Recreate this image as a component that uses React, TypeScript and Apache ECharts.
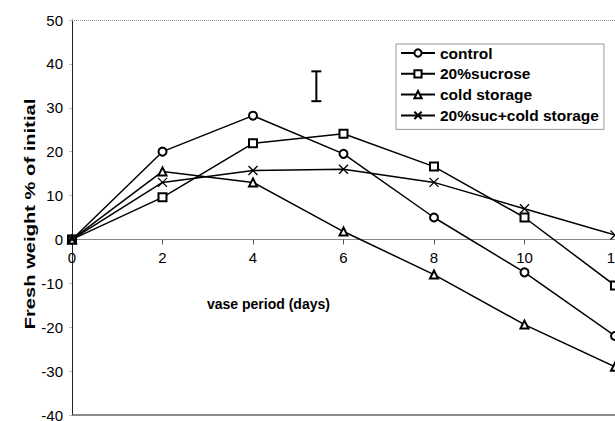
import React, { useEffect, useRef } from "react";
import * as echarts from "echarts";

const days = [0, 2, 4, 6, 8, 10, 12];
const control = [0, 20, 28.2, 19.5, 5, -7.5, -22];
const sucrose = [0, 9.6, 21.9, 24.1, 16.6, 5, -10.5];
const coldStorage = [0, 15.5, 13, 1.8, -8, -19.4, -29];
const sucCold = [0, 13, 15.7, 16, 13, 7, 1];
const seriesNames = ["control", "20%sucrose", "cold storage", "20%suc+cold storage"];
const errorBar = [[5.4, 31.5, 38.3]];

const FONT = "Liberation Sans, Arial, sans-serif";
const Y_MIN = -40;
const Y_MAX = 50;

export default function App() {
  const ref = useRef<HTMLDivElement>(null);
  useEffect(() => {
    if (!ref.current) return;
    const chart = echarts.init(ref.current, null, { renderer: "svg" });
    const pair = (arr: number[]) => days.map((d, i) => [d, arr[i]]);
    const common = {
      type: "line" as const,
      symbolSize: 8,
      lineStyle: { color: "#000", width: 1.5 },
      itemStyle: { color: "#000", borderColor: "#000", borderWidth: 1.3 },
      z: 3,
    };
    const gridTop = 20;
    const gridBottom = 6;
    const gridH = 421 - gridTop - gridBottom;
    // move the x axis up to the zero level
    const zeroOffset = -(gridH * (0 - Y_MIN)) / (Y_MAX - Y_MIN);
    chart.setOption({
      animation: false,
      backgroundColor: "#fff",
      textStyle: { fontFamily: FONT },
      grid: { left: 72, right: 0, top: gridTop, bottom: gridBottom, containLabel: false, outerBoundsMode: "none" },
      legend: {
        data: seriesNames,
        orient: "vertical",
        left: 396,
        top: 44,
        itemWidth: 34,
        itemHeight: 9,
        itemGap: 4.8,
        padding: [1, 5, 6, 4],
        borderColor: "#999",
        borderWidth: 1,
        backgroundColor: "#fff",
        textStyle: { fontFamily: FONT, fontWeight: "bold", fontSize: 15.5, color: "#000" },
      },
      xAxis: [
        {
          type: "value",
          min: 0,
          max: 12,
          interval: 2,
          position: "bottom",
          offset: zeroOffset,
          axisLine: { onZero: false, lineStyle: { color: "#888", width: 1 } },
          axisTick: { show: true, length: 5, lineStyle: { color: "#555" } },
          axisLabel: { fontFamily: FONT, fontSize: 15, color: "#000", margin: 11 },
          splitLine: { show: false },
        },
      ],
      yAxis: {
        type: "value",
        min: Y_MIN,
        max: Y_MAX,
        interval: 10,
        axisLine: { show: true, lineStyle: { color: "#222", width: 1 } },
        axisTick: { show: true, length: 3, lineStyle: { color: "#999", type: "dotted" } },
        axisLabel: { fontFamily: FONT, fontSize: 15, color: "#000", margin: 9 },
        splitLine: { show: false },
      },
      graphic: [
        {
          type: "text",
          left: 207,
          top: 297,
          style: { text: "vase period (days)", font: `bold 14px ${FONT}`, fill: "#000" },
        },
        {
          type: "text",
          x: 30,
          y: 214,
          rotation: Math.PI / 2,
          scaleX: 1.44,
          style: {
            text: "Fresh weight % of initial",
            font: `bold 14px ${FONT}`,
            fill: "#000",
            align: "center",
            verticalAlign: "middle",
          },
        },
      ],
      series: [
        {
          ...common,
          name: "control",
          symbol: "emptyCircle",
          data: pair(control),
          markLine: {
            silent: true,
            symbol: "none",
            label: { show: false },
            data: [
              { yAxis: Y_MAX, lineStyle: { color: "#999", type: "dotted", width: 1 } },
              { yAxis: Y_MIN, lineStyle: { color: "#666", type: "solid", width: 1.5 } },
            ],
          },
        },
        {
          ...common,
          name: "20%sucrose",
          symbol: "emptyRect",
          data: pair(sucrose).map((p, i) =>
            i === 0 ? { value: p, itemStyle: { color: "#000" } } : p
          ),
        },
        { ...common, name: "cold storage", symbol: "emptyTriangle", data: pair(coldStorage) },
        {
          ...common,
          name: "20%suc+cold storage",
          symbol: "path://M0,0L10,10M10,0L0,10",
          symbolSize: 9,
          data: pair(sucCold),
        },
        {
          type: "custom",
          name: "error",
          silent: true,
          data: errorBar,
          z: 4,
          renderItem: (params: any, api: any) => {
            const x = api.value(0);
            const lo = api.coord([x, api.value(1)]);
            const hi = api.coord([x, api.value(2)]);
            const w = 5;
            const style = { stroke: "#000", lineWidth: 2 };
            return {
              type: "group",
              children: [
                { type: "line", shape: { x1: lo[0], y1: lo[1], x2: hi[0], y2: hi[1] }, style },
                { type: "line", shape: { x1: lo[0] - w, y1: lo[1], x2: lo[0] + w, y2: lo[1] }, style },
                { type: "line", shape: { x1: hi[0] - w, y1: hi[1], x2: hi[0] + w, y2: hi[1] }, style },
              ],
            };
          },
        },
      ],
    });
    return () => chart.dispose();
  }, []);
  return (
    <div
      ref={ref}
      style={{ position: "absolute", left: 0, top: 0, width: 615, height: 421 }}
    />
  );
}
